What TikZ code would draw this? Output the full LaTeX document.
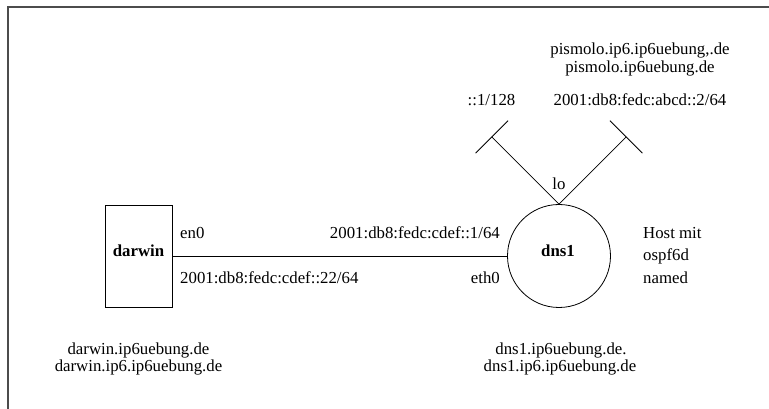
\documentclass[tikz,border=0pt]{standalone}
\usepackage{fontspec}
\setmainfont{Liberation Serif}
\begin{document}
\begin{tikzpicture}[x=1pt,y=1pt,
  lbl/.style={font=\fontsize{16.8}{20}\selectfont, inner sep=0pt},
  bold/.style={font=\fontsize{16.8}{20}\selectfont\bfseries, inner sep=0pt},
  frame/.style={draw=black!70, line width=1.6pt},
  wire/.style={draw, line width=0.9pt},
  lnk/.style={draw, line width=0.8pt}]
\useasboundingbox (0,0) rectangle (769,409);

% outer frame (only left and top edges)
\draw[frame] (8,0) -- (8,402) -- (769,402);

% hosts
\node[draw, line width=0.8pt, minimum width=67, minimum height=102, inner sep=0pt] (darwin) at (138.5,153) {};
\node[bold, anchor=base] (darwinname) at (138.5,152.5) {darwin};
\node[draw, line width=0.8pt, circle, minimum size=103, inner sep=0pt] (dns) at (559,153) {};
\node[bold, anchor=base] (dnsname) at (558,152.5) {dns1};

% ethernet link
\draw[wire] (darwin.east) -- (dns.west);

% loopback interfaces
\coordinate (loA) at ([shift={(135:95)}]dns.north);
\coordinate (loB) at ([shift={(45:95)}]dns.north);
\draw[lnk] (dns.north) -- (loA);
\draw[lnk] (dns.north) -- (loB);
\draw[lnk] ([shift={(45:23)}]loA) -- ([shift={(225:23)}]loA);
\draw[lnk] ([shift={(135:23)}]loB) -- ([shift={(-45:23)}]loB);

% labels
\node[lbl, anchor=base] (pis1) at (640,354) {pismolo.ip6.ip6uebung,.de};
\node[lbl, anchor=base] (pis2) at (640,336.5) {pismolo.ip6uebung.de};
\node[lbl, anchor=base] (loaddrA) at (491.5,303.5) {::1/128};
\node[lbl, anchor=base] (loaddrB) at (640,303.5) {2001:db8:fedc:abcd::2/64};
\node[lbl, anchor=base] (lolbl) at (559,219) {lo};

\node[lbl, anchor=base west] (en0) at (180,170.5) {en0};
\node[lbl, anchor=base west] (darwinaddr) at (180,125.5) {2001:db8:fedc:cdef::22/64};
\node[lbl, anchor=base east] (dnsaddr) at (500,170.5) {2001:db8:fedc:cdef::1/64};
\node[lbl, anchor=base east] (eth0) at (500,125.5) {eth0};

\node[lbl, anchor=base west] (host1) at (643,170.5) {Host mit};
\node[lbl, anchor=base west] (host2) at (643,148) {ospf6d};
\node[lbl, anchor=base west] (host3) at (643,125.5) {named};

\node[lbl, anchor=base] (dwfqdn1) at (138.5,54.5) {darwin.ip6uebung.de};
\node[lbl, anchor=base] (dwfqdn2) at (138.5,37.5) {darwin.ip6.ip6uebung.de};
\node[lbl, anchor=base] (dnsfqdn1) at (561,54.5) {dns1.ip6uebung.de.};
\node[lbl, anchor=base] (dnsfqdn2) at (560,37.5) {dns1.ip6.ip6uebung.de};
\end{tikzpicture}
\end{document}
